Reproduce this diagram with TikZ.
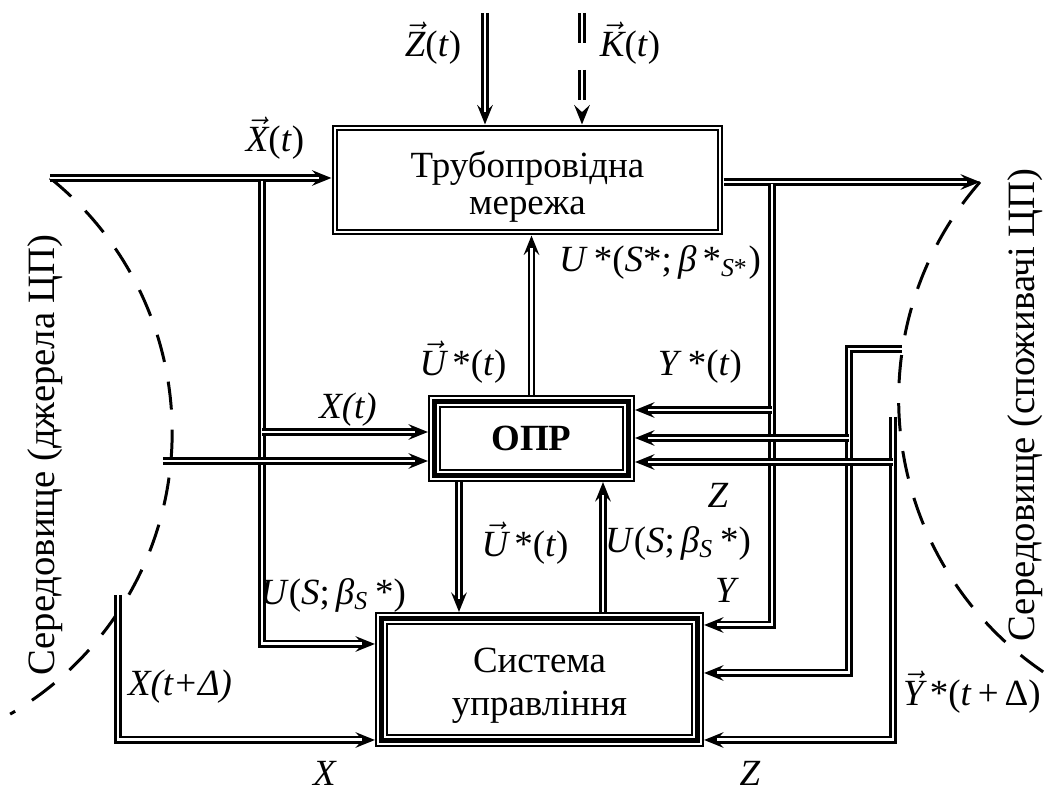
\documentclass[tikz,border=0pt]{standalone}
\usepackage{fontspec}
\setmainfont{Liberation Serif}
\usetikzlibrary{arrows.meta}
\newcommand{\vv}[1]{$\vec{\textit{#1}}$}

\begin{document}
\begin{tikzpicture}[x=0.01cm,y=-0.01cm,
    lbl/.style={font=\fontsize{10.5}{12}\selectfont,inner sep=0pt},
    envlbl/.style={font=\fontsize{11}{12}\selectfont,inner sep=1pt,rotate=90},
    netbox/.style={draw,line width=0.57pt,double=white,double distance=0.77pt,
      minimum width=3.85cm,minimum height=1.04cm,inner sep=0pt,outer sep=0.035cm,
      align=center,font=\fontsize{10.5}{10.5}\selectfont},
    tribox/.style={draw=white,line width=2.73pt,
      preaction={draw=black,line width=3.7pt},
      postaction={draw=black,line width=1.62pt},
      inner sep=0pt,outer sep=0.065cm,align=center},
    dline/.style={draw=black,line width=2pt,-{Stealth[length=5.5pt,width=4.4pt,inset=2pt]},
      postaction={draw=white,line width=0.85pt,arrows=-,shorten >=3.6pt}},
    env/.style={line width=0.85pt,dash pattern=on 8pt off 5.7pt}
  ]
    \useasboundingbox (0,0) rectangle (1059,791);
    \node[netbox] (net) at (527.5,180) {\rule{0pt}{11.5pt}Трубопровідна\\мережа};
    \node[tribox,minimum width=1.94cm,minimum height=0.74cm,
      font=\bfseries\fontsize{10.5}{10.5}\selectfont] (opr) at (531.5,438.5) {ОПР};
    \node[tribox,minimum width=3.16cm,minimum height=1.22cm,
      font=\fontsize{10.5}{12.2}\selectfont] (sys) at (539.5,679.5) {\rule{0pt}{10.5pt}Система\\управління};
    \node[envlbl] (srcenv) at (45,455) {Середовище (джерела ЦП)};
    \node[envlbl,fill=white] (conenv) at (1025,405) {Середовище (споживачі ЦП)};

    \coordinate (zin) at (485,13);
    \coordinate (kin) at (582,13);
    \coordinate (xsrc) at (50,178);
    \coordinate (xbr) at (262,181);
    \coordinate (xopr) at (262,432);
    \coordinate (xenv) at (163,461);
    \coordinate (xdel) at (118,595);
    \coordinate (yout) at (980,182);
    \coordinate (ybr) at (772,184);
    \coordinate (yopr) at (772,410);
    \coordinate (yenv) at (902,349);
    \coordinate (ycor) at (849,673);
    \coordinate (yopr2) at (849,438);
    \coordinate (zenv) at (893,417);
    \coordinate (zopr) at (893,462);

    % межі середовища
    \draw[env] (xsrc) arc[start angle=-51.3,end angle=59.8,radius=326];
    \draw[env] (yout) arc[start angle=-138.9,end angle=-240.1,radius=330];

    % потоки
    \draw[dline] (zin) -- (zin |- net.north);
    \draw[dline,dash pattern=on 8.5pt off 7.7pt] (kin) -- (kin |- net.north);
    \draw[dline] (xsrc) -- (xsrc -| net.west);
    \draw[dline] (xbr) |- (sys.west |- 0,644);
    \draw[dline] (xopr) -- (xopr -| opr.west);
    \draw[dline] (xenv) -- (xenv -| opr.west);
    \draw[dline] (xdel) |- (sys.west |- 0,740);
    \draw[dline] (opr.north) -- (opr.north |- net.south);
    \draw[dline] (opr.south -| 459,0) -- (sys.north -| 459,0);
    \draw[dline] (sys.north -| 603,0) -- (opr.south -| 603,0);
    \draw[dline] (net.east |- yout) -- (yout);
    \draw[dline] (ybr) |- (sys.east |- 0,625);
    \draw[dline] (yopr) -- (yopr -| opr.east);
    \draw[dline] (yenv) -| (ycor) -- (ycor -| sys.east);
    \draw[dline] (yopr2) -- (yopr2 -| opr.east);
    \draw[dline] (zenv) |- (sys.east |- 0,740);
    \draw[dline] (zopr) -- (zopr -| opr.east);

    % підписи
    \node[lbl] (lz) at (433,43) {\vv{Z}(\textit{t})};
    \node[lbl] (lk) at (630,43) {\vv{K}(\textit{t})};
    \node[lbl] (lx) at (275,138) {\vv{X}(\textit{t})};
    \node[lbl] (lus) at (660,262) {\textit{U}\,*(\textit{S}*;\,\textit{β}\,*\textsubscript{\textit{S}*})};
    \node[lbl] (lu1) at (463,362) {\vv{U}\,*(\textit{t})};
    \node[lbl] (ly1) at (700,367) {\textit{Y}\,*(\textit{t})};
    \node[lbl] (lx1) at (348,410) {\textit{X(t)}};
    \node[lbl] (lz1) at (718,495) {\textit{Z}};
    \node[lbl] (lu2) at (525,543) {\vv{U}\,*(\textit{t})};
    \node[lbl] (lus2) at (678,543) {\textit{U}(\textit{S};\,\textit{β}\textsubscript{\textit{S}}\,*)};
    \node[lbl] (lus3) at (333,595) {\textit{U}(\textit{S};\,\textit{β}\textsubscript{\textit{S}}\,*)};
    \node[lbl] (ly2) at (727,590) {\textit{Y}};
    \node[lbl] (lxd) at (180,687) {\textit{X(t+Δ)}};
    \node[lbl] (lyd) at (972,692) {\vv{Y}\,*(\textit{t}\,+\,Δ)};
    \node[lbl] (lx2) at (325,773) {\textit{X}};
    \node[lbl] (lz2) at (750,773) {\textit{Z}};
\end{tikzpicture}
\end{document}
